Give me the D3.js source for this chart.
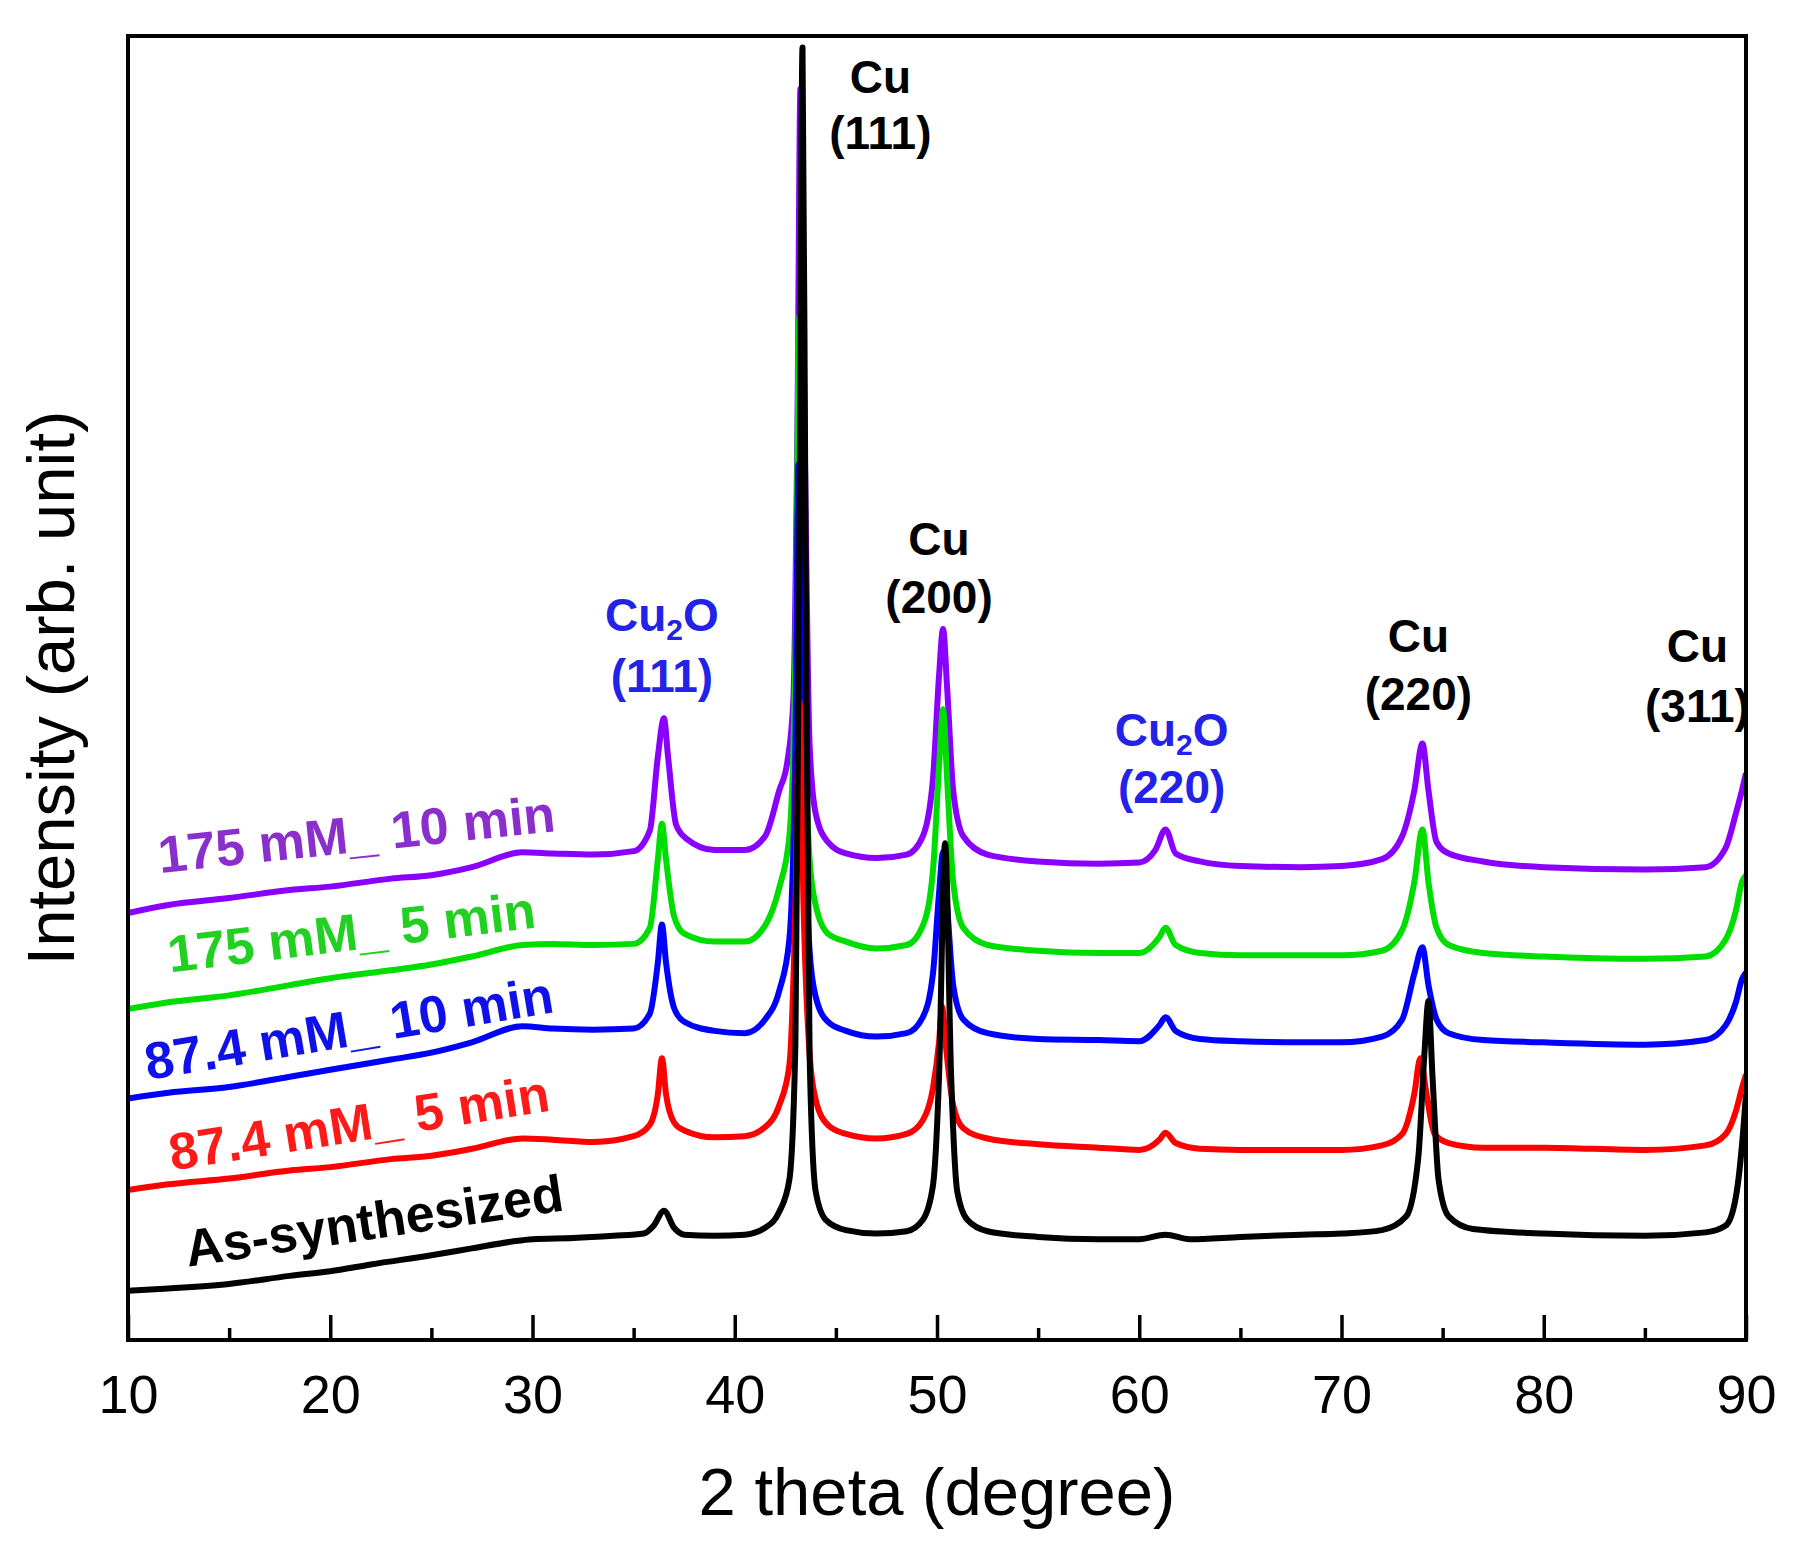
<!DOCTYPE html>
<html>
<head>
<meta charset="utf-8">
<script src="https://cdn.jsdelivr.net/npm/d3@7"></script>
<style>
  html, body { margin: 0; padding: 0; background: #fff; }
  svg { display: block; }
</style>
</head>
<body>
<svg id="chart" width="1793" height="1550"></svg>
<script>
// ---- Data (2θ in degree, intensity in arbitrary units) ----
const majorTicks = [10, 20, 30, 40, 50, 60, 70, 80, 90];
const minorTicks = [15, 25, 35, 45, 55, 65, 75, 85];

const asSynthesized = [
  [10,43],[12,45],[15,49],[18,56],[20,60],[22,66],[25,74],[27,80],[29,86],[30,88],[32,89],[34,91],
  [35.5,93],[36.0,100],[36.5,113],[37.0,98],[37.5,92],[39,91],[40.5,92],[41.5,98],[42.2,112],[42.7,140],
  [43.0,260],[43.2,700],[43.35,1129],[43.5,700],[43.7,250],[44.0,130],[44.5,105],[45.5,96],[47,93],
  [48.5,95],[49.3,105],[49.8,135],[50.1,230],[50.4,434],[50.7,230],[51.0,130],[51.5,105],[52.5,95],
  [55,90],[58,88],[60,88],[61.3,92],[62.5,88],[65,90],[68,92],[70,93],[72,96],[73.2,108],[73.8,160],
  [74.1,250],[74.3,296],[74.5,230],[74.8,140],[75.3,108],[76.5,97],[80,93],[85,91],[88,94],[89.0,100],
  [89.5,125],[89.8,170],[90,215]
];
const mM87_5min = [
  [10,131],[12,136],[15,141],[18,148],[20,151],[23,158],[25,161],[27,167],[29.5,176],[31,175],[33,173],
  [35,178],[35.8,188],[36.2,215],[36.4,246],[36.6,215],[37.0,190],[37.5,183],[39,177],[40.5,178],
  [41.5,186],[42.2,205],[42.7,240],[43.0,380],[43.2,558],[43.4,380],[43.7,250],[44.0,210],[44.6,188],
  [45.5,180],[47,176],[48.5,180],[49.3,192],[49.8,220],[50.1,260],[50.25,291],[50.45,255],[50.8,205],
  [51.3,185],[52.5,176],[55,171],[58,168],[60,166],[61.0,175],[61.3,181],[61.8,172],[63,167],[65,166],
  [68,166],[70,166],[72,170],[73.0,180],[73.6,215],[73.9,246],[74.2,215],[74.6,180],[75.3,172],[77,168],
  [80,168],[85,166],[88,170],[89.0,180],[89.5,200],[89.8,220],[90,232]
];
const mM87_10min = [
  [10,211],[12,216],[15,221],[18,230],[20,236],[23,245],[25,251],[27,260],[29.5,274],[31,272],[33,271],
  [35,272],[35.8,285],[36.2,330],[36.4,363],[36.6,330],[37.0,290],[37.5,278],[39,270],[40.5,268],
  [41.5,280],[42.2,305],[42.7,350],[43.0,520],[43.15,765],[43.35,520],[43.7,340],[44.0,300],[44.6,278],
  [45.5,270],[47,265],[48.5,268],[49.3,282],[49.8,320],[50.1,390],[50.3,426],[50.5,380],[50.8,310],
  [51.3,280],[52.5,268],[55,263],[58,262],[60,261],[61.0,275],[61.3,282],[61.8,270],[63,263],[65,261],
  [68,260],[70,260],[72,265],[73.0,280],[73.6,320],[74.0,343],[74.3,310],[74.7,280],[75.3,268],[77,262],
  [80,260],[85,258],[88,262],[89.0,275],[89.5,295],[89.8,315],[90,321]
];
const mM175_5min = [
  [10,289],[12,295],[15,301],[18,310],[20,316],[23,323],[25,328],[27,335],[29.5,345],[31,346],[33,345],
  [35,346],[35.8,360],[36.2,420],[36.4,451],[36.6,420],[37.0,370],[37.5,355],[39,348],[40.5,348],
  [41.5,362],[42.2,395],[42.7,440],[43.0,600],[43.2,894],[43.4,600],[43.7,420],[44.0,380],[44.6,355],
  [45.5,348],[47,342],[48.5,345],[49.3,362],[49.8,410],[50.1,500],[50.3,551],[50.5,490],[50.8,400],
  [51.3,360],[52.5,345],[55,340],[58,338],[60,338],[61.0,352],[61.3,360],[61.8,345],[63,338],[65,336],
  [68,336],[70,336],[72,340],[73.0,358],[73.6,400],[74.0,446],[74.3,400],[74.7,360],[75.3,345],[77,338],
  [80,335],[85,333],[88,335],[89.0,350],[89.5,375],[89.8,400],[90,406]
];
const mM175_10min = [
  [10,373],[12,380],[15,386],[18,393],[20,396],[23,403],[25,406],[27,413],[29.5,426],[31,425],[33,424],
  [35,427],[35.8,445],[36.2,510],[36.5,543],[36.7,510],[37.1,450],[37.6,438],[39,428],[40.5,428],
  [41.5,440],[42.2,480],[42.6,505],[42.9,560],[43.1,800],[43.25,1093],[43.45,800],[43.7,520],[44.0,460],
  [44.6,435],[45.5,425],[47,421],[48.5,424],[49.3,440],[49.8,490],[50.1,580],[50.3,621],[50.5,570],
  [50.8,480],[51.3,440],[52.5,424],[55,418],[58,416],[60,417],[60.8,428],[61.3,446],[61.8,425],[63,418],
  [65,414],[68,413],[70,414],[72,420],[73.0,440],[73.6,480],[74.0,521],[74.3,480],[74.7,435],[75.3,425],
  [77,418],[80,413],[85,411],[88,413],[89.0,430],[89.5,460],[89.8,480],[90,495]
];

const seriesNames = ["175 mM_ 10 min", "175 mM_ 5 min", "87.4 mM_ 10 min", "87.4 mM_ 5 min", "As-synthesized"];
const seriesData = [mM175_10min, mM175_5min, mM87_10min, mM87_5min, asSynthesized];
const lineColors = ["#8a00ff", "#00dd00", "#0000ff", "#ff0000", "#000000"];
const labelColors = ["#8a2fcc", "#22d022", "#1010e8", "#ff1a1a", "#000000"];

const peakNames = [
  {top: "Cu", sub: null, bottom: "(111)", x: 47.2, color: "black"},
  {top: "Cu", sub: null, bottom: "(200)", x: 50.1, color: "black"},
  {top: "Cu", sub: "2", bottom: "(111)", x: 36.4, color: "blue"},
  {top: "Cu", sub: "2", bottom: "(220)", x: 61.6, color: "blue"},
  {top: "Cu", sub: null, bottom: "(220)", x: 73.8, color: "black"},
  {top: "Cu", sub: null, bottom: "(311)", x: 87.6, color: "black"}
];

// ---- Layout ----
const svg = d3.select("#chart");
const L = 128, R = 1746, T = 36, B = 1340;
const x = d3.scaleLinear().domain([10, 90]).range([L, R]);
const y = d3.scaleLinear().domain([0, 1139]).range([B, T]);
const FONT = "Liberation Sans, Arial, Helvetica, sans-serif";

svg.append("defs").append("clipPath").attr("id", "plotclip")
  .append("rect").attr("x", L).attr("y", T).attr("width", R - L).attr("height", B - T);

const line = d3.line().x(d => x(d[0])).y(d => y(d[1])).curve(d3.curveMonotoneX);

const gLines = svg.append("g").attr("clip-path", "url(#plotclip)");
seriesData.forEach((s, i) => {
  gLines.append("path").datum(s)
    .attr("fill", "none")
    .attr("stroke", lineColors[i])
    .attr("stroke-width", 6)
    .attr("stroke-linejoin", "round")
    .attr("d", line);
});

// axes
const axisG = svg.append("g").attr("transform", `translate(0,${B})`);
axisG.call(d3.axisBottom(x).tickValues(majorTicks).tickSize(-25).tickPadding(50).tickFormat(d3.format("d")));
axisG.select(".domain").remove();
axisG.selectAll(".tick line").attr("stroke", "#000").attr("stroke-width", 3.5);
axisG.selectAll(".tick text")
  .attr("font-family", FONT).attr("font-size", 54).attr("fill", "#000")
  .attr("dy", null).attr("y", 73);

const minorG = svg.append("g").attr("transform", `translate(0,${B})`);
minorG.call(d3.axisBottom(x).tickValues(minorTicks).tickSize(-12).tickFormat(""));
minorG.select(".domain").remove();
minorG.selectAll(".tick line").attr("stroke", "#000").attr("stroke-width", 3.5);

// frame
svg.append("rect").attr("x", L).attr("y", T).attr("width", R - L).attr("height", B - T)
  .attr("fill", "none").attr("stroke", "#000").attr("stroke-width", 4);

// axis titles
svg.append("text").attr("x", (L + R) / 2).attr("y", 1515)
  .attr("text-anchor", "middle").attr("font-family", FONT).attr("font-size", 67)
  .text("2 theta (degree)");
svg.append("text").attr("transform", `translate(74,${(T + B) / 2}) rotate(-90)`)
  .attr("text-anchor", "middle").attr("font-family", FONT).attr("font-size", 67)
  .text("Intensity (arb. unit)");

// peak annotations (positions in data coords)
const annY = [ [1171-82, 1171-131], [1171-485, 1171-536], [1171-552, 1171-605], [1171-652, 1171-702], [1171-570, 1171-621], [1171-579, 1171-631] ];
const annColor = {black: "#000000", blue: "#2323e8"};
peakNames.forEach((p, i) => {
  const cx = x(p.x);
  const t1 = svg.append("text").attr("x", cx).attr("y", y(annY[i][0]))
    .attr("text-anchor", "middle").attr("font-family", FONT).attr("font-weight", "bold")
    .attr("font-size", 46).attr("fill", annColor[p.color]);
  if (p.sub) {
    t1.append("tspan").text("Cu");
    t1.append("tspan").attr("font-size", 30).attr("dy", 9).text(p.sub);
    t1.append("tspan").attr("dy", -9).text("O");
  } else {
    t1.text(p.top);
  }
  svg.append("text").attr("x", cx).attr("y", y(annY[i][1]))
    .attr("text-anchor", "middle").attr("font-family", FONT).attr("font-weight", "bold")
    .attr("font-size", 46).attr("fill", annColor[p.color]).text(p.bottom);
});

// series labels (rotated), anchor in data coords and rotation angle
const labelPos = [[11.58, 408, -6], [12.08, 321, -7], [10.99, 227, -9.5], [12.18, 148, -9], [12.97, 64, -8.5]];
seriesNames.forEach((n, i) => {
  svg.append("text")
    .attr("transform", `translate(${x(labelPos[i][0])},${y(labelPos[i][1])}) rotate(${labelPos[i][2]})`)
    .attr("font-family", FONT).attr("font-weight", "bold").attr("font-size", 52)
    .attr("fill", labelColors[i]).text(n);
});
</script>
</body>
</html>
